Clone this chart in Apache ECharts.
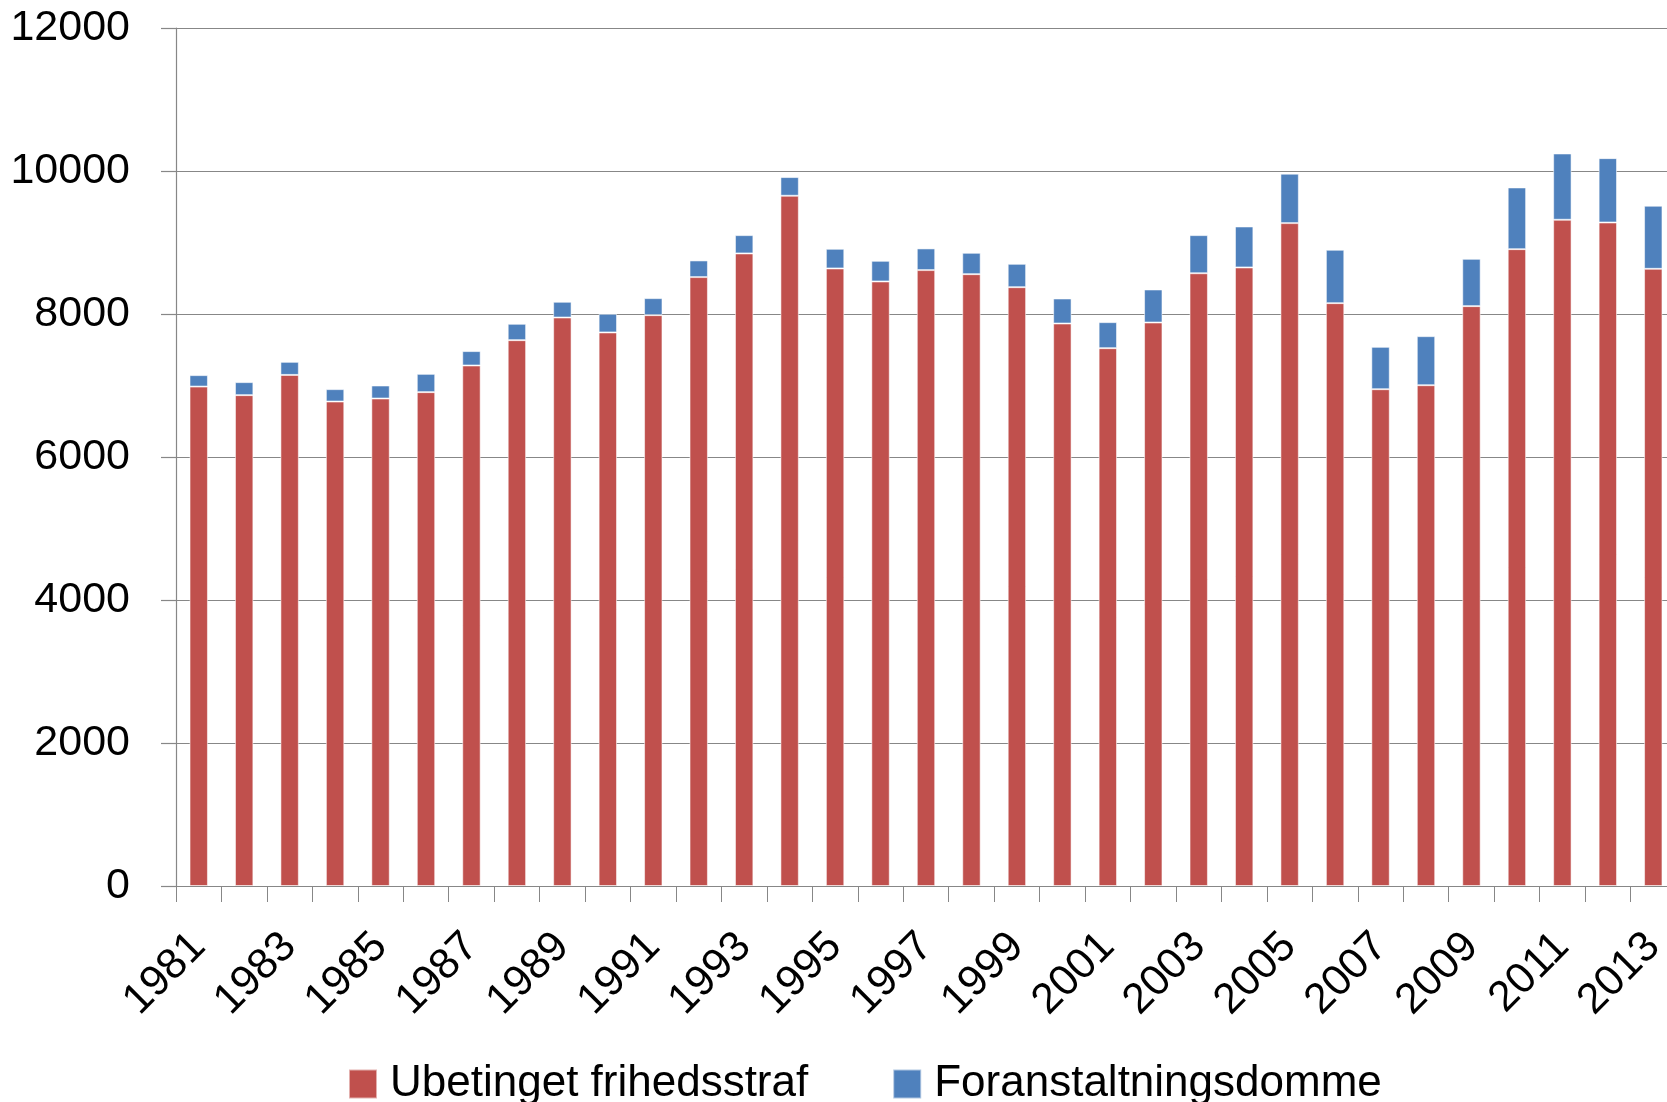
<!DOCTYPE html>
<html>
<head>
<meta charset="utf-8">
<script src="https://cdn.jsdelivr.net/npm/echarts@6/dist/echarts.min.js"></script>
<style>
  html, body { margin: 0; padding: 0; background: #fff; }
  #main { width: 1667px; height: 1102px; }
</style>
</head>
<body>
<div id="main"></div>
<script>
// år
var years = ['1981','1982','1983','1984','1985','1986','1987','1988','1989','1990',
             '1991','1992','1993','1994','1995','1996','1997','1998','1999','2000',
             '2001','2002','2003','2004','2005','2006','2007','2008','2009','2010',
             '2011','2012','2013'];
// Ubetinget frihedsstraf
var ubetinget = [6985,6865,7148,6776,6818,6907,7280,7634,7951,7742,
                 7984,8516,8847,9654,8637,8455,8614,8557,8375,7867,
                 7522,7881,8570,8651,9271,8152,6948,7004,8110,8907,
                 9318,9280,8632];
// Foranstaltningsdomme
var foranstaltning = [160,182,183,173,182,256,201,229,220,261,
                      238,233,256,261,275,289,303,299,327,350,
                      364,462,533,573,691,746,593,686,662,863,
                      927,900,882];
var seriesNames = ['Ubetinget frihedsstraf', 'Foranstaltningsdomme'];

var font = 'Liberation Sans';
var axisGray = '#878787';

var myChart = echarts.init(document.getElementById('main'));
var option = {
    animation: false,
    color: ['#C0504D', '#4F81BD'],
    grid: {
        left: 176,
        top: 28,
        right: -9,
        bottom: 216,
        containLabel: false,
        outerBoundsMode: 'none'
    },
    legend: {
        left: 343,
        top: 1054,
        icon: 'rect',
        itemWidth: 28,
        itemHeight: 29,
        itemGap: 84,
        textStyle: {
            fontFamily: font,
            fontSize: 44,
            color: '#000',
            lineHeight: 48,
            padding: [2, 0, 0, 8]
        },
        data: seriesNames
    },
    xAxis: {
        type: 'category',
        data: years,
        axisLine: { show: true, lineStyle: { color: axisGray, width: 1.2 } },
        axisTick: { show: true, interval: 0, length: 16, lineStyle: { color: axisGray } },
        axisLabel: {
            interval: 1,
            rotate: 45,
            margin: 54,
            fontFamily: font,
            fontSize: 43,
            color: '#000'
        }
    },
    yAxis: {
        type: 'value',
        min: 0,
        max: 12000,
        interval: 2000,
        axisLine: { show: true, lineStyle: { color: axisGray, width: 1.2 } },
        axisTick: { show: true, length: 15, lineStyle: { color: axisGray, width: 1.2 } },
        splitLine: { show: true, lineStyle: { color: axisGray, width: 1.2 } },
        axisLabel: {
            margin: 46,
            fontFamily: font,
            fontSize: 43,
            color: '#000',
            formatter: function (v) { return String(v); }
        }
    },
    series: [
        {
            name: seriesNames[0],
            type: 'bar',
            stack: 'tot',
            barWidth: '40.5%',
            itemStyle: { borderColor: 'rgba(255,255,255,0.55)', borderWidth: 1 },
            data: ubetinget
        },
        {
            name: seriesNames[1],
            type: 'bar',
            stack: 'tot',
            barWidth: '40.5%',
            itemStyle: { borderColor: 'rgba(255,255,255,0.55)', borderWidth: 1 },
            data: foranstaltning
        }
    ]
};
myChart.setOption(option);
</script>
</body>
</html>
